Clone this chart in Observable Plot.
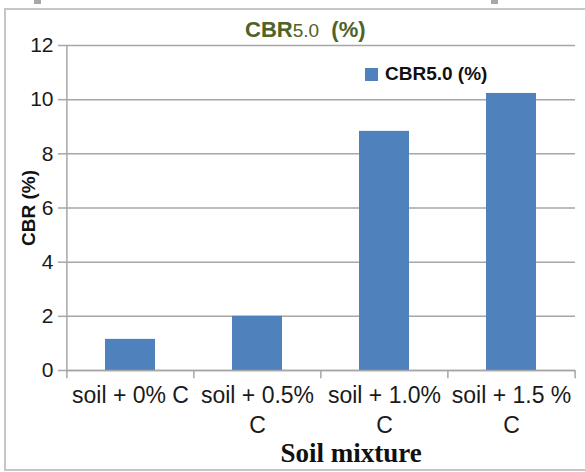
<!DOCTYPE html>
<html>
<head>
<meta charset="utf-8">
<script src="https://cdn.jsdelivr.net/npm/d3@7"></script>
<script src="https://cdn.jsdelivr.net/npm/@observablehq/plot@0.6"></script>
<style>
  html, body { margin: 0; padding: 0; background: #fff; }
  #page { position: relative; width: 585px; height: 472px; overflow: hidden; background: #fff; }
  #border { position: absolute; left: 4px; top: 8px; width: 620px; height: 459px; border: 2px solid #c6c6c6; border-right: none; }
  .handle { position: absolute; top: 0; width: 7px; height: 4px; background: #a8a8a8; }
  #chart { position: absolute; left: 0; top: 0; }
  #title { position: absolute; left: 245px; top: 17px; color: #4F6228; font-family: "Liberation Sans", Arial, sans-serif; font-size: 22px; font-weight: bold; white-space: nowrap; }
  #title .sub { font-weight: normal; font-size: 19px; }
  #legend { position: absolute; left: 365px; top: 63px; font-family: "Liberation Sans", Arial, sans-serif; font-size: 19px; font-weight: bold; color: #111; white-space: nowrap; display: flex; align-items: center; }
  #legend .sw { display: inline-block; width: 13px; height: 13px; background: #4F81BD; margin-right: 7px; }
</style>
</head>
<body>
<div id="page">
  <div id="border"></div>
  <div class="handle" style="left:34px"></div>
  <div class="handle" style="left:491px"></div>
  <div id="chart"></div>
  <div id="title">CBR<span class="sub">5.0</span>&nbsp;&nbsp;(%)</div>
  <div id="legend"><span class="sw"></span>CBR5.0 (%)</div>
</div>
<script>
const categories = ["soil + 0% C", "soil + 0.5% C", "soil + 1.0% C", "soil + 1.5 % C"];
const tickLabels = ["soil + 0% C", "soil + 0.5%\nC", "soil + 1.0%\nC", "soil + 1.5 %\nC"];
const cbrValues = [1.15, 2.0, 8.83, 10.23];
const yTicks = [0, 2, 4, 6, 8, 10, 12];
const yLabel = "CBR (%)";
const xLabel = "Soil mixture";

const data = categories.map((c, i) => ({category: c, value: cbrValues[i]}));

const W = 585, H = 472, mL = 66, mR = 10, mT = 45, mB = 102;
const step = (W - mL - mR) / categories.length;
const grey = "#a6a6a6";

const chart = Plot.plot({
  width: W, height: H,
  marginLeft: mL, marginRight: mR, marginTop: mT, marginBottom: mB,
  style: {fontFamily: "'Liberation Sans', Arial, sans-serif", background: "transparent", overflow: "visible"},
  x: {domain: categories, paddingInner: 0.607, paddingOuter: 0.3035, axis: null},
  y: {domain: [0, 12], ticks: yTicks, axis: null},
  marks: [
    Plot.gridY(yTicks, {stroke: grey, strokeOpacity: 1, strokeWidth: 1.5}),
    Plot.barY(data, {x: "category", y: "value", fill: "#4F81BD"}),
    Plot.ruleY([0], {stroke: grey, strokeWidth: 1.5}),
    Plot.ruleX(categories, {x: d => d, dx: -step / 2, y1: 0, y2: -0.3, stroke: grey, strokeWidth: 1.5}),
    Plot.ruleX(categories.slice(-1), {x: d => d, dx: step / 2, y1: 0, y2: -0.3, stroke: grey, strokeWidth: 1.5}),
    Plot.ruleX(categories.slice(0, 1), {x: d => d, dx: -step / 2, y1: 0, y2: 12, stroke: grey, strokeWidth: 1.5}),
    Plot.axisY({ticks: yTicks, tickSize: 8, tickPadding: 5, fontSize: 21, stroke: grey, strokeWidth: 1.5, fill: "#1a1a1a", label: null}),
    Plot.axisX({tickSize: 0, tickPadding: 11, fontSize: 23, lineHeight: 1.3, fill: "#1a1a1a", label: null,
      tickFormat: d => tickLabels[categories.indexOf(d)]}),
    Plot.text([yLabel], {frameAnchor: "left", textAnchor: "middle", lineAnchor: "middle", rotate: -90, dx: -38, fontWeight: "bold", fontSize: 19, fill: "#111"}),
    Plot.text([xLabel], {frameAnchor: "bottom", dx: 30, dy: 91, fontWeight: "bold", fontSize: 27,
      fontFamily: "'Liberation Serif', 'Times New Roman', serif", fill: "#111"})
  ]
});
document.getElementById("chart").appendChild(chart);
</script>
</body>
</html>
